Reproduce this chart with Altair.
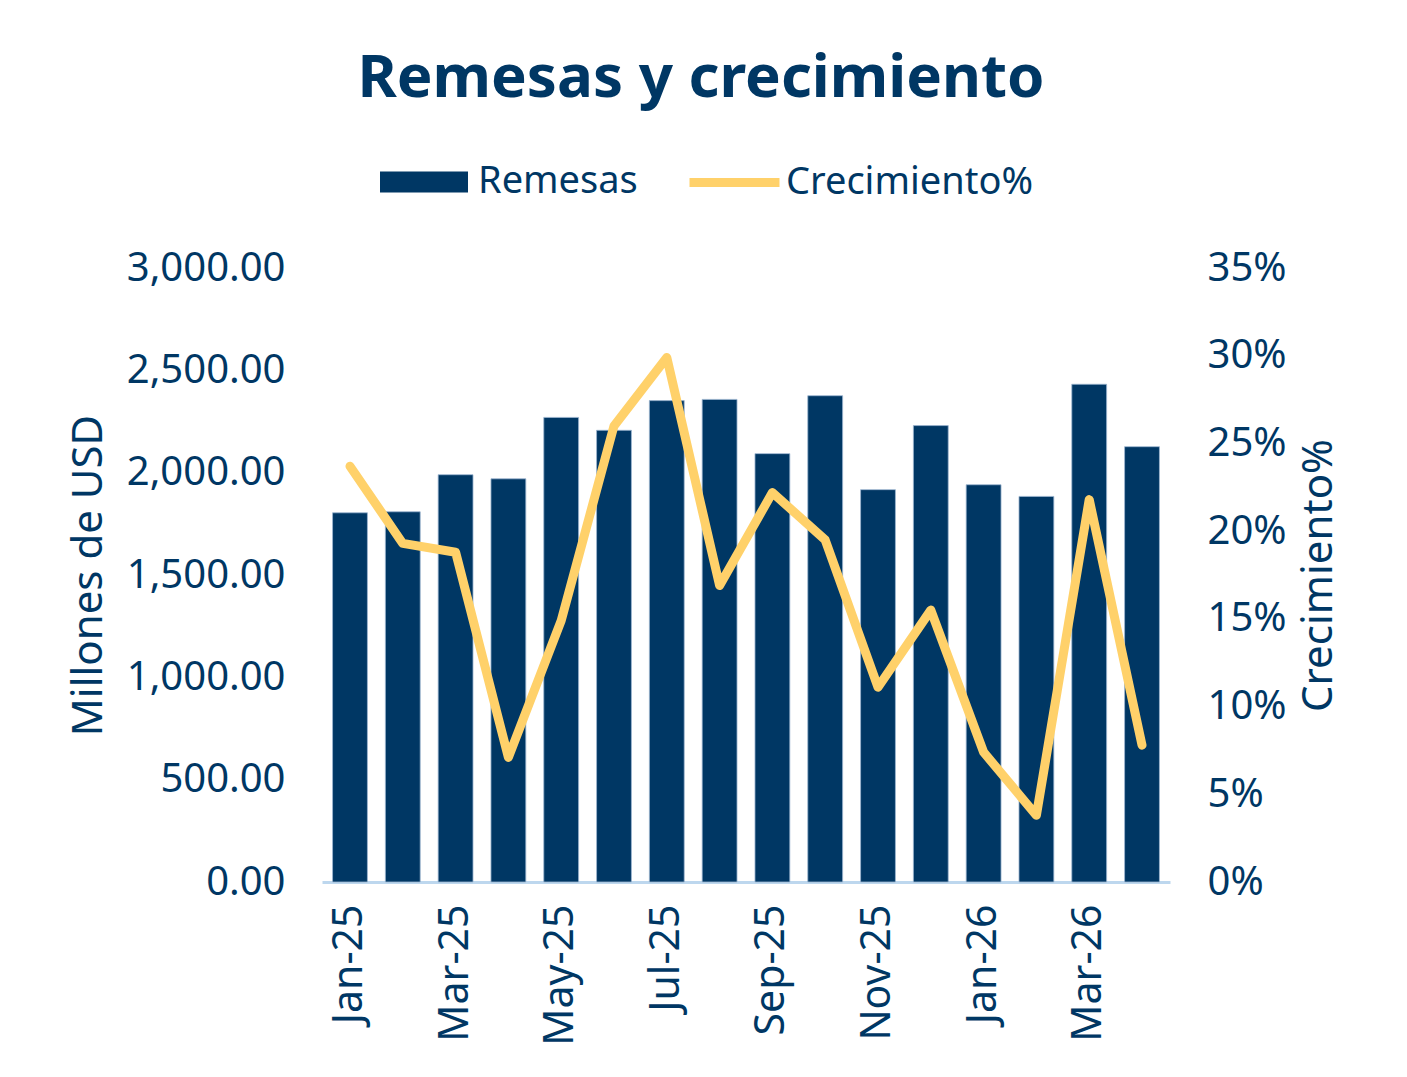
import altair as alt
import pandas as pd

months = ["Jan-25", "Feb-25", "Mar-25", "Apr-25", "May-25", "Jun-25", "Jul-25", "Aug-25",
          "Sep-25", "Oct-25", "Nov-25", "Dec-25", "Jan-26", "Feb-26", "Mar-26", "Apr-26"]
remesas = [1804, 1809, 1990, 1970, 2270, 2207, 2352, 2358,
           2093, 2376, 1917, 2230, 1941, 1884, 2432, 2127]
crecimiento = [0.237, 0.193, 0.188, 0.071, 0.149, 0.260, 0.299, 0.169,
               0.222, 0.195, 0.111, 0.155, 0.074, 0.038, 0.218, 0.078]
shown_labels = ["Jan-25", "Mar-25", "May-25", "Jul-25", "Sep-25", "Nov-25", "Jan-26", "Mar-26"]

NAVY = "#003764"
YELLOW = "#FFD16A"
FONT = "Noto Sans"

df = pd.DataFrame({
    "mes": months,
    "Remesas": remesas,
    "Crecimiento": crecimiento,
    "s1": ["Remesas"] * len(months),
    "s2": ["Crecimiento%"] * len(months),
})

W, H = 848, 614

x = alt.X("mes:N", sort=months, title=None,
          scale=alt.Scale(paddingInner=0.34, paddingOuter=0.2),
          axis=alt.Axis(values=shown_labels, labelAngle=270, labelAlign="right",
                        labelBaseline="middle", labelPadding=22, labelFontSize=41,
                        labelFont=FONT, labelColor=NAVY, ticks=False, tickSize=0,
                        domainColor="#BDD7EE", domainWidth=3, grid=False))

bars = alt.Chart(df).mark_bar(stroke="#9DB6D0", strokeWidth=0.8).encode(
    x=x,
    y=alt.Y("Remesas:Q", scale=alt.Scale(domain=[0, 3000], nice=False),
            axis=alt.Axis(values=[0, 500, 1000, 1500, 2000, 2500, 3000], format=",.2f",
                          title="Millones de USD", titleFontSize=42, titleFont=FONT,
                          titleFontWeight="normal", titleColor=NAVY, titleAngle=270,
                          titleX=-234, titleY=H / 2, titleAlign="center",
                          titleBaseline="middle",
                          labelFontSize=40, labelFont=FONT, labelColor=NAVY,
                          labelPadding=37, ticks=False, tickSize=0, domain=False,
                          grid=False, orient="left")),
    color=alt.Color("s1:N", scale=alt.Scale(domain=["Remesas"], range=[NAVY]),
                    legend=alt.Legend(title=None, orient="none", legendX=58, legendY=-130,
                                      symbolType="M-1,-0.24H1V0.24H-1Z", symbolSize=7744,
                                      symbolStrokeWidth=0, labelFontSize=38, labelFont=FONT,
                                      labelColor=NAVY, labelOffset=10, labelLimit=1000,
                                      padding=0)),
)

line = alt.Chart(df).mark_line(strokeWidth=9, strokeCap="round", strokeJoin="round").encode(
    x=x,
    y=alt.Y("Crecimiento:Q", scale=alt.Scale(domain=[0, 0.35], nice=False),
            axis=alt.Axis(values=[0, 0.05, 0.1, 0.15, 0.2, 0.25, 0.3, 0.35], format=".0%",
                          title="Crecimiento%", titleFontSize=42, titleFont=FONT,
                          titleFontWeight="normal", titleColor=NAVY, titleAngle=270,
                          titleX=148, titleY=H / 2, titleAlign="center",
                          titleBaseline="middle",
                          labelFontSize=40, labelFont=FONT, labelColor=NAVY,
                          labelPadding=37, ticks=False, tickSize=0, domain=False,
                          grid=False, orient="right")),
    color=alt.Color("s2:N", scale=alt.Scale(domain=["Crecimiento%"], range=[YELLOW]),
                    legend=alt.Legend(title=None, orient="none", legendX=363, legendY=-135,
                                      symbolType="stroke", symbolSize=8100,
                                      symbolStrokeWidth=9, labelFontSize=38, labelFont=FONT,
                                      labelColor=NAVY, labelOffset=2, labelLimit=1000,
                                      padding=0)),
)

chart = alt.layer(bars, line).resolve_scale(
    y="independent", color="independent"
).properties(
    width=W, height=H,
    background="white",
    padding={"left": 322, "top": 268, "right": 237, "bottom": 195},
    autosize=alt.AutoSizeParams(type="none"),
    title=alt.TitleParams("Remesas y crecimiento", fontSize=60, font=FONT,
                          fontWeight="bold", color=NAVY, anchor="middle",
                          dx=-45, offset=23),
).configure_view(stroke=None, strokeWidth=0)

chart.save("out.html", embed_options={"renderer": "svg", "actions": False})
